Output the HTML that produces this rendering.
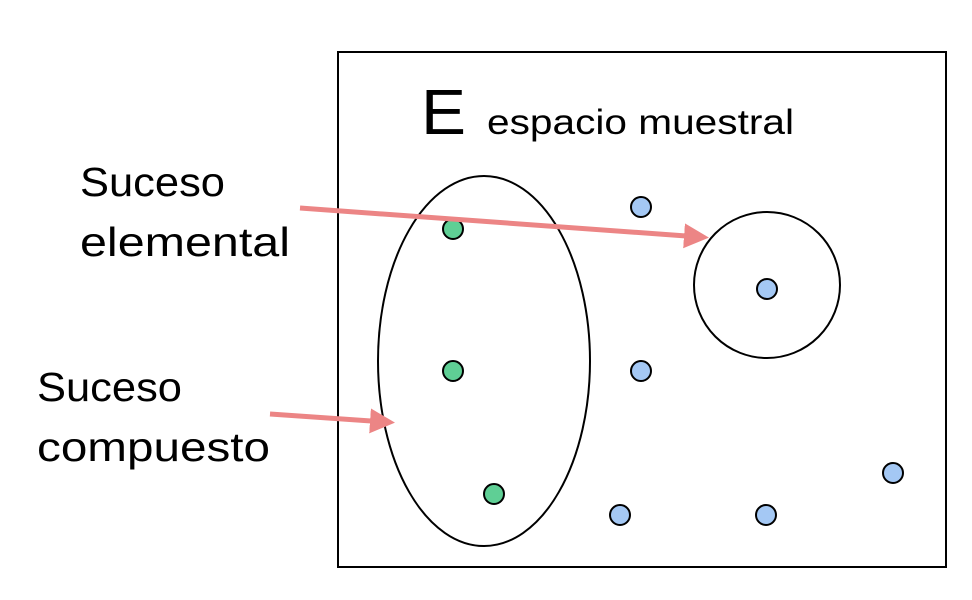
<!DOCTYPE html>
<html><head><meta charset="utf-8"><style>
html,body{margin:0;padding:0;background:#fff;width:972px;height:600px;overflow:hidden}
svg text{font-family:"Liberation Sans",sans-serif;fill:#000}
</style></head><body>
<svg id="chart" width="972" height="600" viewBox="0 0 972 600" xmlns="http://www.w3.org/2000/svg">
<defs><marker id="ah" markerWidth="5" markerHeight="5" refX="3.2" refY="2.5" orient="auto" markerUnits="strokeWidth"><path d="M0,0 L5,2.5 L0,5 z" fill="#ec8585"/></marker></defs>
<rect x="338" y="52" width="608" height="515" fill="none" stroke="#000" stroke-width="2"/>
<text x="421" y="134" font-size="64" textLength="45" lengthAdjust="spacingAndGlyphs">E</text>
<text x="487" y="134" font-size="35" textLength="307" lengthAdjust="spacingAndGlyphs">espacio muestral</text>
<ellipse cx="484" cy="361" rx="106" ry="185" fill="none" stroke="#000" stroke-width="2"/>
<circle cx="767" cy="285" r="73" fill="none" stroke="#000" stroke-width="2"/>
<g id="dots"></g>
<line x1="300" y1="208" x2="700" y2="237" stroke="#ec8585" stroke-width="5" marker-end="url(#ah)"/>
<line x1="270" y1="414" x2="386" y2="422" stroke="#ec8585" stroke-width="5" marker-end="url(#ah)"/>
<text font-size="41"><tspan x="80" y="196" textLength="145" lengthAdjust="spacingAndGlyphs">Suceso</tspan><tspan x="80" y="256" textLength="210" lengthAdjust="spacingAndGlyphs">elemental</tspan></text>
<text font-size="41"><tspan x="37" y="401" textLength="145" lengthAdjust="spacingAndGlyphs">Suceso</tspan><tspan x="37" y="461" textLength="233" lengthAdjust="spacingAndGlyphs">compuesto</tspan></text>
</svg>
<script>
const greenX=[453,453,494];
const greenY=[229,371,494];
const blueX=[641,767,641,620,766,893];
const blueY=[207,289,371,515,515,473];
const g=document.getElementById('dots');
function dot(x,y,fill,name){
  const c=document.createElementNS('http://www.w3.org/2000/svg','circle');
  c.setAttribute('cx',x);c.setAttribute('cy',y);c.setAttribute('r',10);
  c.setAttribute('fill',fill);c.setAttribute('stroke','#000');c.setAttribute('stroke-width',2);
  
  
  g.appendChild(c);
}
greenX.forEach((x,i)=>dot(x,greenY[i],'#5fcf95','green-outcome'));
blueX.forEach((x,i)=>dot(x,blueY[i],'#a4c8f4','blue-outcome'));
</script>
</body></html>
